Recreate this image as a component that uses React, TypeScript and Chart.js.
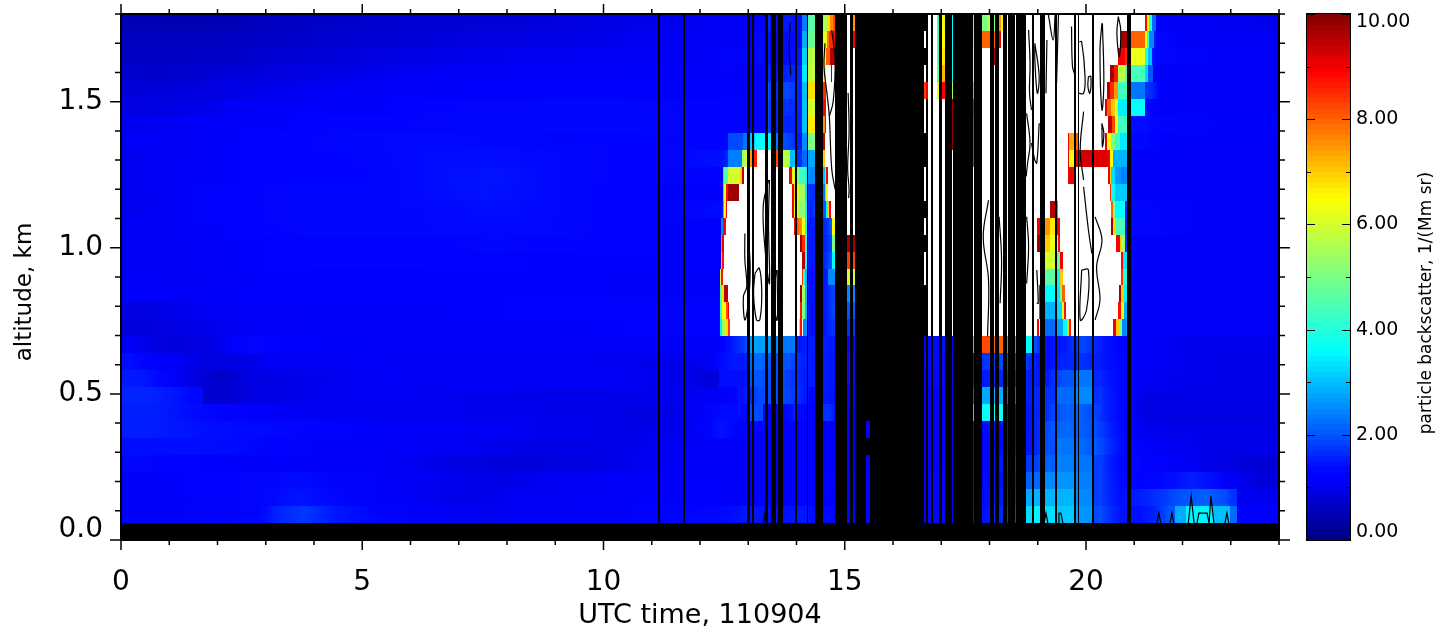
import React, { useEffect, useRef } from "react";
import { Chart, registerables, DatasetController, Element } from "chart.js";

// ---- axis labels ----
const xAxisTitle = "UTC time, 110904";
const yAxisTitle = "altitude, km";
const colorbarTitle = "particle backscatter, 1/(Mm sr)";

// ---- tick positions ----
const xMinorTicks = [0,1,2,3,4,5,6,7,8,9,10,11,12,13,14,15,16,17,18,19,20,21,22,23,24];
const xMajorTicks = [0,5,10,15,20];
const yMinorTicks = [0,0.1,0.2,0.3,0.4,0.5,0.6,0.7,0.8,0.9,1.0,1.1,1.2,1.3,1.4,1.5,1.6,1.7,1.8];
const yMajorTicks = [0,0.5,1.0,1.5];
const barMinorTicks = [0,1,2,3,4,5,6,7,8,9,10];
const barMajorTicks = [0,2,4,6,8,10];

// ---- backscatter: each altitude row is a run list [endHour, value, endHour, value, ...]
// value > 10 is off-scale (white), null is no data (black)
const row00 = [24,null];
const row01 = [2.85,1.15,3.2,1.4,4.4,1.75,6,1.25,7,1.05,8.3,1,10.7,1.1,12.4,1.25,12.8,1.35,13.14,1.5,13.9,1.4,14.2,1.5,14.38,1.4,15.21,1.3,17.84,1.3,18.28,1.5,18.76,1.8,18.88,3.3,19.05,3.5,19.36,3.3,19.75,3.1,20.12,2.6,20.5,1.9,20.93,1.45,21.29,1.4,21.6,1.6,21.84,2,22.08,2.8,22.63,3.5,22.98,3,23.13,2.2,24,1.2];
const row02 = [3,1.15,4.4,1.45,6,1.15,8.3,0.95,10.7,1.1,12.4,1.2,14.4,1.15,15.21,1.2,17.84,1.25,18.28,1.4,18.76,1.6,18.88,2.8,19.05,2.9,19.36,2.9,19.75,2.9,20.12,2.5,20.5,1.8,20.93,1.4,21.6,1.6,22.08,1.9,22.91,2.1,23.13,1.7,24,1];
const row03 = [1.4,1.15,3.2,1.25,4.4,1.35,6,1.15,7.1,1,8.9,0.95,11.9,1.1,12.4,1.2,13.9,1.15,15.21,1.2,17.84,1.25,18.28,1.35,18.76,1.5,18.88,2.1,19.05,2.2,19.36,2.5,19.75,2.6,20.12,2.4,20.5,1.8,20.93,1.35,21.22,1.25,21.84,1.3,22.63,1.55,23.13,1.2,24,0.85];
const row04 = [0.8,1.3,2.4,1.2,4.8,1.15,6,1.1,7.1,0.95,8.9,0.85,10.7,0.9,12.4,1.1,15.21,1.15,17.84,1.2,18.28,1.35,18.88,1.7,19.05,1.8,19.36,2.1,19.75,2.4,20.12,2.3,20.5,1.8,20.93,1.3,21.22,1.3,22.08,1.15,23.13,0.95,24,0.8];
const row05 = [2.4,1.4,3,1.3,4.8,1.15,7.1,1.1,9.5,0.95,11.3,0.95,12.4,1.1,15.21,1.15,17.84,1.2,18.28,1.35,18.76,1.35,19.05,1.5,19.36,1.95,19.75,2.3,20.12,2.2,20.5,1.9,20.93,1.4,21.5,1.15,24,0.95];
const row06 = [1.2,1.55,2.6,1.4,4,1.3,5.4,1.2,7.1,1.1,10.1,1,11.3,0.95,12.2,1,12.68,1.45,16.73,1.1,17.84,1.15,18.28,1.4,18.76,1.3,19.05,1.5,19.36,1.9,19.75,2.2,20.12,2.1,20.5,1.8,20.93,1.35,21.5,1,24,0.95];
const row07 = [1.4,1.55,2.6,1.25,4.2,1.05,10.1,1,12,0.9,13.04,1.35,13.3,1.9,13.9,1.15,14,1.6,14.55,1.15,14.8,1.7,15.21,1.2,17.66,1.15,17.84,3.3,18.28,3.7,18.76,1.3,19.05,1.55,19.36,1.7,19.75,2.1,20.12,2.1,20.5,1.7,20.93,1.3,21.5,0.9,24,0.9];
const row08 = [1.2,1.6,1.7,1.3,2.7,0.75,7.1,1.05,12.2,0.95,12.7,1.1,13.04,1.4,13.4,1.9,13.97,1.9,14.24,1.6,14.38,1.2,14.8,1.5,15.21,1.3,17.66,1.2,17.84,2,18.28,2.8,18.76,2.2,18.88,1.55,19.05,1.6,19.36,1.7,19.75,2.2,20.12,2.5,20.5,1.7,20.93,1.3,21.5,0.95,24,0.95];
const row09 = [0.8,1.5,1.5,1.1,2.7,0.7,8.3,1.1,11.9,1.05,12.4,0.85,13.04,1.4,13.4,2,13.97,1.9,14.38,1.5,14.8,1.5,15.21,1.4,17.66,1.25,18.76,1.6,19.05,1.5,19.36,1.5,19.75,2,20.12,2.3,20.5,1.6,20.93,1.3,22.5,1,24,0.95];
const row10 = [0.4,1.4,1.2,1.15,2.4,0.9,3,0.95,7.1,1.1,10.7,1.05,12.2,0.95,12.4,1.1,13.04,1.5,13.4,2.2,13.72,1.9,13.97,2,14.22,1.6,14.38,1.5,14.8,1.5,15.21,1.4,17.66,1.3,17.84,1.5,18.76,1.9,18.88,1.7,19.05,1.5,19.36,1.4,19.75,1.6,20.12,1.7,20.5,1.5,20.93,1.3,22,1.05,24,0.95];
const row11 = [0.4,1.1,1.7,0.85,2.3,0.95,3.2,1.3,12.41,1.1,12.6,1.25,12.9,1.6,13.04,1.9,13.58,2.7,13.72,2.5,13.97,2.3,14.38,1.5,14.8,1.55,15.21,1.4,16.95,1.2,17.08,1.45,17.24,1.3,17.68,7.5,18.01,8.2,18.28,8,18.76,8,18.88,3.6,19.05,1.9,19.36,1.4,19.75,1.5,20.12,1.9,20.5,1.5,20.93,1.25,21.6,1.1,22,1,24,0.98];
const row12 = [1,0.85,2,0.95,3,1.05,5,1.15,8,1.1,10.5,1.15,12.41,1.25,12.46,3.5,12.54,5.5,12.58,6.8,12.62,8.4,14.05,12,14.07,5,14.11,8.8,14.13,12,14.22,2.5,14.38,1.4,14.65,1.4,14.82,1.7,15.21,1.7,18.98,12,19.03,8.9,19.15,12,19.36,2.2,19.52,2.7,19.61,3.6,19.65,7,19.69,8.7,20.56,12,20.62,9,20.68,7,20.74,5,20.93,2.5,24,1.1];
const row13 = [1,0.9,2,1,3,1.1,5,1.15,7,1.15,9,1.2,12.41,1.25,12.46,4,12.54,6.5,12.58,8.2,12.6,9,14.07,12,14.11,8.7,14.18,5,14.22,3,14.38,1.4,14.65,1.4,14.82,1.8,15.21,2,19.03,12,19.05,8.5,19.36,2.9,19.5,3.3,19.54,6,19.58,8.8,20.66,12,20.72,8.8,20.79,6.5,20.93,2.8,24,1.1];
const row14 = [1,1.15,2,1.1,3,1.2,10,1.2,12.41,1.15,12.46,4.5,12.5,6.8,12.58,9.5,14.07,12,14.11,9.7,14.18,5.5,14.22,3,14.38,1.4,14.65,1.4,14.82,1.8,15.21,2.5,19.03,12,19.05,9,19.36,3.6,19.46,3.4,19.5,5,19.57,8,20.68,12,20.72,9.7,20.79,7,20.93,3.5,24,1.1];
const row15 = [1,1.1,2,1.05,3,1.15,10,1.2,12.41,1.15,12.44,6,12.48,8.8,14.11,12,14.13,8.5,14.18,4,14.22,3,14.38,1.4,14.65,1.5,14.82,2.5,15.21,6,19.15,12,19.36,4.6,19.46,3.5,19.52,7,20.72,12,20.77,8.5,20.93,4,24,1.1];
const row16 = [1.5,1.05,3,1.15,5,1.25,7,1.25,10,1.2,12.44,1.2,12.46,4,12.5,8.8,14.11,12,14.18,9.5,14.22,3.6,14.38,1.5,14.65,1.5,14.74,2,14.82,3.6,15.21,8.3,19.15,12,19.36,6,19.46,4.8,19.52,9,20.72,12,20.77,8.9,20.93,3.4,24,1.1];
const row17 = [1.5,1.05,3,1.15,5,1.25,7,1.25,8.5,1.3,10,1.25,12.44,1.2,12.46,3.2,12.5,9,14.07,12,14.11,9.7,14.18,8.5,14.22,4,14.38,1.5,14.65,1.5,14.74,1.8,14.82,5,15.21,9.7,18.98,12,19.05,9.7,19.25,7,19.36,6.3,19.42,6.2,19.46,8.8,20.62,12,20.7,9,20.72,7,20.8,5.5,20.93,1.7,24,1.1];
const row18 = [1.5,1.05,3,1.2,5,1.3,7,1.3,8.5,1.35,10,1.3,12.44,1.2,12.48,2.5,12.54,8.9,13.95,12,14.01,9,14.05,8,14.11,7.6,14.18,6.4,14.22,3.7,14.38,1.5,14.65,1.5,14.74,2,14.82,6.5,18.98,12,19.05,9,19.25,7.5,19.36,6.7,19.46,9,20.52,12,20.56,9.7,20.6,6.8,20.8,4.4,20.93,1.5,24,1.1];
const row19 = [0.5,1,1.5,1.05,3,1.25,5,1.3,7,1.3,8.5,1.4,10,1.3,12.44,1.2,12.48,1.5,12.5,3,12.54,6.5,12.56,9,13.91,12,13.95,9,14.01,6.4,14.05,5.9,14.18,5.2,14.22,3.7,14.38,1.6,14.61,2,14.65,3.6,14.67,7,14.72,9,19.25,12,19.36,9.5,19.42,8,20.52,12,20.56,8,20.6,5,20.8,3.6,20.93,1.5,24,1.1];
const row20 = [0.5,1,1.5,1.05,3,1.25,5,1.3,6.5,1.3,8.5,1.45,10,1.3,12.48,1.2,12.5,3.5,12.54,6,12.58,8.8,12.81,9.7,13.91,12,13.95,9,14.01,7,14.05,6,14.18,5.5,14.22,3.4,14.38,1.7,14.59,2.3,14.61,3.6,14.65,6.3,20.5,12,20.52,8.5,20.6,3.8,20.93,3.1,24,1.1];
const row21 = [0.5,1,2,1.1,3,1.2,4,1.25,6,1.25,7,1.4,8.5,1.45,10,1.3,12.48,1.25,12.5,3.5,12.58,4.5,12.83,6,12.87,7,12.91,9.5,13.84,12,13.91,9,13.97,6.2,14.05,5,14.18,4.3,14.24,3.6,14.38,2.5,14.59,3,14.61,4.5,14.65,9,19.63,12,19.75,9,20.46,12,20.5,9,20.52,6.8,20.6,3.3,20.72,2.6,20.93,2.4,24,1.1];
const row22 = [0.5,1,1,1.05,2,1.1,3,1.2,6,1.25,7,1.4,8.5,1.4,10,1.3,12.5,1.25,12.58,1.6,12.87,2.4,12.93,5.5,13.04,6,13.08,7.5,13.18,8.6,13.58,12,13.62,8.2,13.87,5.7,13.97,3,14.11,1.7,14.22,2.2,14.38,2.8,14.59,7,17.66,12,17.68,8.6,19.63,12,19.65,9,19.75,6.4,19.85,9,20.17,9.3,20.44,9.2,20.5,9,20.56,6.5,20.93,2.9,24,1.1];
const row23 = [1,1.05,2,1.1,3,1.2,4,1.25,6,1.3,7,1.35,9,1.3,12.58,1.25,12.89,1.9,12.98,2.3,13.14,3.1,13.47,3.6,13.62,2.3,13.97,1.9,14.11,1.5,14.22,2.5,14.38,5,14.59,9.5,17.22,12,17.24,9.8,17.66,12,17.68,8.6,19.63,12,19.65,9,19.79,7.3,19.83,8,20.39,12,20.44,9,20.52,6.5,20.6,5,20.71,4.3,20.93,3.4,21.5,1.3,24,1.1];
const row24 = [1,1,2,1.05,3,1.15,4,1.2,5,1.25,6,1.25,9,1.3,12.4,1.3,13.35,1.2,13.47,1.9,13.62,1.5,13.97,1.6,14.11,1.6,14.22,3,14.55,6.7,14.59,7.5,14.61,9,17.22,12,17.24,9.8,17.66,12,17.68,8.7,20.46,12,20.54,9.5,20.6,8.3,20.66,6.5,20.93,4.3,21.43,1.4,24,1.15];
const row25 = [1,0.9,2,0.95,3,1.05,4,1.1,5,1.15,6,1.2,7,1.25,12.4,1.3,13.35,1.2,13.47,1.9,13.62,1.5,13.97,1.7,14.11,1.6,14.22,3,14.55,6,14.61,8.9,17.22,12,17.24,9.8,17.66,12,17.68,9,20.39,12,20.44,9.2,20.52,8,20.6,7,20.66,6,20.93,3.5,21.22,3.6,21.4,1.25,24,1.1];
const row26 = [2,0.85,3,0.95,4,1,5,1.05,6,1.1,7,1.15,12.4,1.2,13.35,1.2,13.47,2,13.62,1.5,13.97,1.9,14.11,1.6,14.22,3,14.49,6.8,14.55,7.2,14.61,8.5,16.64,12,16.68,8.3,16.73,9,16.91,12,16.95,6.3,17.08,8.9,17.24,5.5,17.68,7.5,20.44,12,20.5,9.6,20.58,8.5,20.66,7.5,20.93,4.3,21.22,2.3,21.43,1.7,21.53,1.3,24,1.1];
const row27 = [0.5,0.75,1,0.7,2,0.75,3,0.85,4,0.9,5,0.95,6,1,7,1.05,9,1.1,12.4,1.15,13.35,1.1,13.47,1.7,13.62,1.3,13.97,1.6,14.11,1.6,14.22,3.4,14.55,5.8,14.61,6.5,14.72,12,14.74,9.7,16.91,12,16.95,4.6,17.08,7.2,17.24,3.6,17.68,6.6,20.5,12,20.58,9.7,20.66,8.7,20.81,5.7,20.93,4.5,21.22,4.4,21.29,3.2,21.39,2,24,1.1];
const row28 = [2,0.65,3,0.7,4,0.8,5,0.85,6,0.9,7,0.95,9,1,11,1.05,13.35,1.1,13.47,1.5,13.62,1.3,13.97,1.35,14.11,1.5,14.22,3.2,14.55,5.7,14.61,6.5,14.69,8,14.8,9.5,16.91,12,16.95,4.4,17.08,6.7,17.24,3.6,17.68,6,18.09,12,18.11,9.6,20.66,12,20.81,9,20.93,8.5,21.22,6.3,21.29,4,21.37,3,21.43,1.5,24,1.1];
const row29 = [2,0.6,3,0.65,4,0.7,5,0.75,6,0.8,7,0.85,9,0.9,10,0.95,11,1,12.4,1.05,13.35,1.1,13.47,1.5,13.62,1.3,14.11,1.4,14.22,2.8,14.55,4.8,14.63,6.3,14.67,7.8,14.76,8.5,14.8,9,15.11,12,15.21,9,16.91,12,16.95,4.4,17.08,6.5,17.24,3.6,17.68,5.6,18.11,8,18.24,9,20.73,12,20.93,9.7,21.22,8,21.27,6.5,21.31,4,21.4,2.5,21.45,1.5,22.5,1.1,24,1.05];
const row30 = [0.5,0.55,2,0.5,3,0.55,4,0.65,5,0.7,6,0.75,8,0.8,9,0.85,10,0.9,11,0.95,12.4,1,13.35,1.1,13.47,1.7,13.62,1.3,13.97,1.5,14.11,1.4,14.22,2.4,14.24,3.5,14.55,4.6,14.63,5.5,14.69,6.8,14.76,7.6,14.8,8.2,15.11,12,15.21,7.5,16.91,12,16.95,4.2,17.08,6.3,17.24,3.6,17.68,5,17.95,5,18.01,5.7,18.11,5,18.24,7.5,18.28,6.5,21.22,12,21.27,8.9,21.31,6.5,21.37,4,21.45,2.2,23,1.05,24,1];
const altitudeRows = [row00,row01,row02,row03,row04,row05,row06,row07,row08,row09,row10,row11,row12,row13,row14,row15,row16,row17,row18,row19,row20,row21,row22,row23,row24,row25,row26,row27,row28,row29,row30];
const rowHeightKm = 1.8 / 31;

// ---- profiles with no data (black), hours ----
const missingStart = [11.13,11.65,12.98,13.08,13.35,13.47,13.62,13.97,14.22,14.38,14.80,15.11,15.21,15.52,16.79,16.95,17.08,17.24,17.68,18.01,18.11,18.28,18.38,18.55,18.88,19.05,19.36,19.75,19.83,20.12,20.85];
const missingEnd   = [11.17,11.69,13.04,13.12,13.41,13.58,13.72,14.01,14.24,14.55,15.05,15.17,15.44,16.64,16.83,17.02,17.22,17.66,17.84,18.09,18.20,18.36,18.53,18.76,18.92,19.15,19.40,19.79,19.85,20.17,20.93];
// profiles with no data only at some altitudes
const partialStart = [15.44,16.64,16.68];
const partialEnd   = [15.52,16.68,16.73];
const partialRows05 = [5,7,8,9,10,11,12,13,14,15,16,17,18,19,20,21,22,23,24,25,26,27,28,29,30];
const partialRows16 = [12,13,14,17,19,22,23,28,30];
const partialRows17 = [1,2,3,4,5,6,7,8,9,10,11,12,13,14,15,16,17,18,19,20,21,22,23,24,25,27,28,29,30];

// ---- contour lines (hour / km) ----
const contourHours = [
  [12.93,12.93,12.97,12.90,12.93,13.0,13.04,13.0],
  [13.14,13.11,13.17,13.24,13.28,13.23,13.14],
  [13.42,13.31,13.35,13.44,13.42,13.44],
  [13.58,13.53,13.60,13.60],
  [13.87,13.85,13.88],
  [14.59,14.57,14.63,14.68,14.73,14.80],
  [14.73,14.80,14.76,14.68],
  [15.07,15.09,15.06,15.09,15.08],
  [18.81,18.84,18.83,18.87],
  [18.94,19.03,18.99,18.94,18.94],
  [19.22,19.32,19.36],
  [19.43,19.39],
  [19.19,19.17],
  [19.70,19.72,19.77],
  [19.86,19.91,19.98,19.95,19.84],
  [20.05,20.10,20.08,20.04,20.05],
  [20.33,20.29,20.33,20.37,20.34],
  [20.67,20.64,20.69,20.72,20.67],
  [20.33,20.34,20.37,20.33],
  [19.95,19.88,19.95],
  [18.77,18.84,18.79,18.76],
  [19.03,18.98,18.94,18.87],
  [17.98,17.87,17.98,17.96],
  [18.20,18.25,18.22],
  [19.95,20.05,20.12],
  [20.19,20.33,20.22,20.29,20.19],
  [19.91,19.88,20.01,20.05,19.91],
  [18.77,18.81,18.77],
  [18.98,19.01,18.98],
];
const contourKm = [
  [1.049,0.958,0.867,0.833,0.753,0.81,0.924,1.049],
  [0.913,0.844,0.753,0.753,0.844,0.93,0.913],
  [1.232,1.141,0.992,0.878,1.084,1.232],
  [0.924,0.81,0.753,0.924],
  [1.77,1.68,1.59],
  [1.70,1.62,1.53,1.45,1.27,1.20],
  [1.745,1.64,1.50,1.45],
  [1.53,1.40,1.27,1.20,1.17],
  [1.745,1.631,1.529,1.472],
  [1.70,1.586,1.529,1.643,1.70],
  [1.797,1.711,1.797],
  [1.797,1.563],
  [1.711,1.529],
  [1.757,1.62,1.592],
  [1.705,1.705,1.586,1.529,1.529],
  [1.586,1.586,1.529,1.552,1.586],
  [1.768,1.677,1.472,1.563,1.768],
  [1.791,1.734,1.654,1.745,1.791],
  [1.426,1.346,1.392,1.426],
  [1.466,1.335,1.232],
  [1.46,1.358,1.29,1.244],
  [1.426,1.29,1.30,1.358],
  [1.163,1.038,0.89,0.696],
  [1.106,0.958,0.81],
  [1.209,1.061,0.981],
  [1.106,1.027,0.935,0.821,0.753],
  [0.924,0.753,0.787,0.924,0.924],
  [1.106,1.004,0.878],
  [0.924,0.81,0.81],
];
// small spikes just above the black ground band
const spikeHours = [
  [13.31,13.35,13.39],
  [19.13,19.17,19.21],
  [19.42,19.44,19.48,19.52],
  [21.47,21.51,21.55],
  [21.74,21.78,21.82],
  [22.12,22.18,22.24],
  [22.30,22.34,22.51,22.55,22.59,22.65],
  [22.88,22.92,22.96],
];
const spikeKm = [
  [0.058,0.092,0.058],
  [0.058,0.092,0.058],
  [0.058,0.092,0.092,0.058],
  [0.058,0.092,0.058],
  [0.058,0.092,0.058],
  [0.058,0.15,0.058],
  [0.058,0.092,0.092,0.058,0.15,0.058],
  [0.058,0.092,0.058],
];

// ---- colour bar levels ----
const barLevels = [0,0.1,0.2,0.3,0.4,0.5,0.6,0.7,0.8,0.9,1,1.1,1.2,1.3,1.4,1.5,1.6,1.7,1.8,1.9,2,2.1,2.2,2.3,2.4,2.5,2.6,2.7,2.8,2.9,3,3.1,3.2,3.3,3.4,3.5,3.6,3.7,3.8,3.9,4,4.1,4.2,4.3,4.4,4.5,4.6,4.7,4.8,4.9,5,5.1,5.2,5.3,5.4,5.5,5.6,5.7,5.8,5.9,6,6.1,6.2,6.3,6.4,6.5,6.6,6.7,6.8,6.9,7,7.1,7.2,7.3,7.4,7.5,7.6,7.7,7.8,7.9,8,8.1,8.2,8.3,8.4,8.5,8.6,8.7,8.8,8.9,9,9.1,9.2,9.3,9.4,9.5,9.6,9.7,9.8,9.9];

// colour stops: [value, r, g, b]
const colorStops = [[0,0,0,127],[0.5,0,0,180],[0.9,0,0,226],[1.05,0,0,248],[1.2,0,0,255],[1.4,0,12,255],[1.6,0,35,255],[1.9,0,74,255],[3.6,0,255,255],[6.5,255,255,0],[8.9,255,0,0],[10,127,0,0]];
function colorFor(v: number | null): string {
  if (v === null) return "#000000";
  if (v > 10) return "#ffffff";
  for (let i = 1; i < colorStops.length; i++) {
    const a = colorStops[i - 1], b = colorStops[i];
    if (v <= b[0]) {
      const t = (v - a[0]) / (b[0] - a[0]);
      return `rgb(${Math.round(a[1] + t * (b[1] - a[1]))},${Math.round(a[2] + t * (b[2] - a[2]))},${Math.round(a[3] + t * (b[3] - a[3]))})`;
    }
  }
  return "#7f0000";
}

class HeatCell extends Element {
  static id = "heatCell";
  static defaults = {};
  draw(ctx: CanvasRenderingContext2D) {
    const e = this as any;
    if (e.colorLeft !== e.color || e.colorRight !== e.color) {
      const g = ctx.createLinearGradient(e.left, 0, e.left + e.w, 0);
      g.addColorStop(0, e.colorLeft);
      g.addColorStop(0.5, e.color);
      g.addColorStop(1, e.colorRight);
      ctx.fillStyle = g;
    } else {
      ctx.fillStyle = e.color;
    }
    ctx.fillRect(e.left, e.top, e.w, e.h);
  }
}
class HeatController extends DatasetController {
  static id = "heat";
  static defaults = { dataElementType: "heatCell", datasetElementType: false };
  update() {
    const meta: any = this.getMeta();
    const xs = meta.xScale, ys = meta.yScale;
    const raw: any[] = (this.getDataset() as any).data;
    (meta.data as any[]).forEach((el, i) => {
      const c = raw[i];
      const left = Math.round(xs.getPixelForValue(c.x0));
      const right = Math.round(xs.getPixelForValue(c.x1));
      const top = Math.round(ys.getPixelForValue(c.y1));
      const bottom = Math.round(ys.getPixelForValue(c.y0));
      const color = colorFor(c.v);
      Object.assign(el, {
        x: (left + right) / 2, y: (top + bottom) / 2, left, top,
        w: Math.max(1, right - left), h: Math.max(1, bottom - top),
        color,
        colorLeft: c.vLeft === undefined ? color : colorFor(c.vLeft),
        colorRight: c.vRight === undefined ? color : colorFor(c.vRight),
      });
    });
  }
  draw() {
    const meta: any = this.getMeta();
    const ctx = (this as any)._ctx;
    (meta.data as any[]).forEach((el) => el.draw(ctx));
  }
}
Chart.register(...registerables, HeatController as any, HeatCell as any);

// neighbouring low-valued runs blend into one another, as the retrieval's smooth field does
function blended(a: any, b: any) {
  if (a === undefined || b === undefined || a === null || b === null) return undefined;
  if (a > 2.2 || b > 2.2 || Math.abs(a - b) > 0.5) return undefined;
  return (a + b) / 2;
}
function rowCells() {
  const cells: any[] = [];
  altitudeRows.forEach((row, k) => {
    let start = 0;
    for (let i = 0; i < row.length; i += 2) {
      const end = row[i] as number;
      const v = row[i + 1];
      cells.push({
        x: (start + end) / 2, y: (k + 0.5) * rowHeightKm, x0: start, x1: end,
        y0: k * rowHeightKm, y1: (k + 1) * rowHeightKm, v,
        vLeft: blended(row[i - 1], v), vRight: blended(v, row[i + 3]),
      });
      start = end;
    }
  });
  return cells;
}
function missingCells() {
  const cells: any[] = [];
  missingStart.forEach((s, i) => {
    const e = missingEnd[i];
    cells.push({ x: (s + e) / 2, y: 0.9, x0: s, x1: e, y0: rowHeightKm, y1: 1.8, v: null });
  });
  [partialRows05, partialRows16, partialRows17].forEach((rows, j) => {
    rows.forEach((k) => {
      const s = partialStart[j], e = partialEnd[j];
      cells.push({ x: (s + e) / 2, y: (k + 0.5) * rowHeightKm, x0: s, x1: e, y0: k * rowHeightKm, y1: (k + 1) * rowHeightKm, v: null });
    });
  });
  return cells;
}
function barCells() {
  return barLevels.map((l) => ({ x: 0.5, y: l + 0.05, x0: 0, x1: 1, y0: l, y1: l + 0.1, v: l + 0.05 }));
}

const framePlugin = {
  id: "frame",
  afterDatasetsDraw(chart: any) {
    const { ctx, chartArea: a, scales } = chart;
    const x = scales.x, y = scales.y;
    ctx.save();
    ctx.strokeStyle = "#000";
    ctx.lineWidth = 1.5;
    ctx.beginPath();
    xMinorTicks.forEach((t) => {
      const px = x.getPixelForValue(t);
      const len = xMajorTicks.includes(t) ? 10 : 5;
      ctx.moveTo(px, a.bottom); ctx.lineTo(px, a.bottom + len);
      ctx.moveTo(px, a.top); ctx.lineTo(px, a.top - len);
    });
    yMinorTicks.forEach((t) => {
      const py = y.getPixelForValue(t);
      const len = yMajorTicks.includes(t) ? 11 : 6;
      ctx.moveTo(a.left, py); ctx.lineTo(a.left - len, py);
      ctx.moveTo(a.right, py); ctx.lineTo(a.right + len, py);
    });
    ctx.stroke();
    ctx.lineWidth = 2;
    ctx.strokeRect(a.left, a.top, a.right - a.left, a.bottom - a.top);
    ctx.fillStyle = "#000";
    ctx.font = '23px "DejaVu Sans"';
    ctx.textAlign = "center";
    ctx.textBaseline = "middle";
    ctx.translate(25, 292);
    ctx.rotate(-Math.PI / 2);
    ctx.fillText(yAxisTitle, 0, 0);
    ctx.restore();
  },
};

const barPlugin = {
  id: "barFrame",
  afterDatasetsDraw(chart: any) {
    const { ctx, chartArea: a, scales } = chart;
    const y = scales.y;
    ctx.save();
    ctx.strokeStyle = "#000";
    ctx.lineWidth = 1;
    ctx.beginPath();
    barMinorTicks.forEach((t) => {
      const py = Math.round(y.getPixelForValue(t)) + 0.5;
      const len = barMajorTicks.includes(t) ? 8 : 4;
      ctx.moveTo(a.left, py); ctx.lineTo(a.left + len, py);
      ctx.moveTo(a.right, py); ctx.lineTo(a.right - len, py);
    });
    ctx.stroke();
    ctx.strokeRect(a.left - 0.5, a.top - 0.5, a.right - a.left + 1, a.bottom - a.top + 1);
    ctx.fillStyle = "#000";
    ctx.font = '17px "DejaVu Sans"';
    ctx.textAlign = "center";
    ctx.textBaseline = "middle";
    ctx.translate(127, 303);
    ctx.rotate(-Math.PI / 2);
    ctx.fillText(colorbarTitle, 0, 0);
    ctx.restore();
  },
};

export default function App() {
  const mainRef = useRef<HTMLCanvasElement>(null);
  const barRef = useRef<HTMLCanvasElement>(null);
  useEffect(() => {
    const fontFamily = '"DejaVu Sans"';
    const contourSets = contourHours.map((hs, i) => ({
      type: "scatter",
      showLine: true,
      pointRadius: 0,
      tension: 0.4,
      borderColor: "#000",
      borderWidth: 1.2,
      data: hs.map((h, j) => ({ x: h, y: contourKm[i][j] })),
    }));
    const spikeSets = spikeHours.map((hs, i) => ({
      type: "scatter",
      showLine: true,
      pointRadius: 0,
      borderColor: "#000",
      borderWidth: 1.2,
      data: hs.map((h, j) => ({ x: h, y: spikeKm[i][j] })),
    }));
    const main = new Chart(mainRef.current as any, {
      type: "scatter",
      data: {
        datasets: [
          ...contourSets,
          ...spikeSets,
          { type: "heat", data: missingCells() },
          { type: "heat", data: rowCells() },
        ],
      } as any,
      plugins: [framePlugin],
      options: {
        animation: false,
        responsive: false,
        devicePixelRatio: 1,
        events: [],
        layout: { padding: { top: 14, right: 21, left: 0, bottom: 0 } },
        plugins: { legend: { display: false }, tooltip: { enabled: false } },
        scales: {
          x: {
            type: "linear",
            min: 0,
            max: 24,
            afterFit: (s: any) => { s.height = 92; s.paddingLeft = 0; s.paddingRight = 0; },
            grid: { display: false, drawTicks: false },
            border: { display: false },
            ticks: {
              stepSize: 5,
              includeBounds: false,
              maxRotation: 0,
              padding: 26,
              color: "#000",
              font: { family: fontFamily, size: 28 },
              callback: (v: any) => String(v),
            },
            title: { display: true, text: xAxisTitle, color: "#000", font: { family: fontFamily, size: 27 }, padding: { top: 0, bottom: 0 } },
          },
          y: {
            type: "linear",
            min: 0,
            max: 1.8,
            afterFit: (s: any) => { s.width = 121; s.paddingTop = 0; s.paddingBottom = 0; },
            grid: { display: false, drawTicks: false },
            border: { display: false },
            ticks: {
              stepSize: 0.5,
              includeBounds: false,
              padding: 18,
              color: "#000",
              font: { family: fontFamily, size: 28, lineHeight: "20px" },
              callback: (v: any) => (v === 0 ? ["0.0", ""] : Number(v).toFixed(1)),
            },
          },
        },
      } as any,
    });
    const bar = new Chart(barRef.current as any, {
      type: "scatter",
      data: { datasets: [{ type: "heat", data: barCells() }] } as any,
      plugins: [barPlugin],
      options: {
        animation: false,
        responsive: false,
        devicePixelRatio: 1,
        events: [],
        layout: { padding: { top: 14, bottom: 92, left: 7, right: 0 } },
        plugins: { legend: { display: false }, tooltip: { enabled: false } },
        scales: {
          x: { type: "linear", min: 0, max: 1, display: false },
          y: {
            type: "linear",
            position: "right",
            min: 0,
            max: 10,
            afterFit: (s: any) => { s.width = 90; s.paddingTop = 0; s.paddingBottom = 0; },
            grid: { display: false, drawTicks: false },
            border: { display: false },
            ticks: {
              stepSize: 2,
              padding: 6,
              color: "#000",
              font: { family: fontFamily, size: 19, lineHeight: "16px" },
              callback: (v: any) => (v === 0 ? ["0.00", ""] : v === 10 ? ["", "10.00"] : Number(v).toFixed(2)),
            },
          },
        },
      } as any,
    });
    return () => { main.destroy(); bar.destroy(); };
  }, []);
  return (
    <div style={{ position: "absolute", left: 0, top: 0, width: 1440, height: 632, background: "#fff", overflow: "hidden" }}>
      <canvas ref={mainRef} width={1300} height={632} style={{ position: "absolute", left: 0, top: 0, width: 1300, height: 632 }} />
      <canvas ref={barRef} width={140} height={632} style={{ position: "absolute", left: 1300, top: 0, width: 140, height: 632 }} />
    </div>
  );
}
